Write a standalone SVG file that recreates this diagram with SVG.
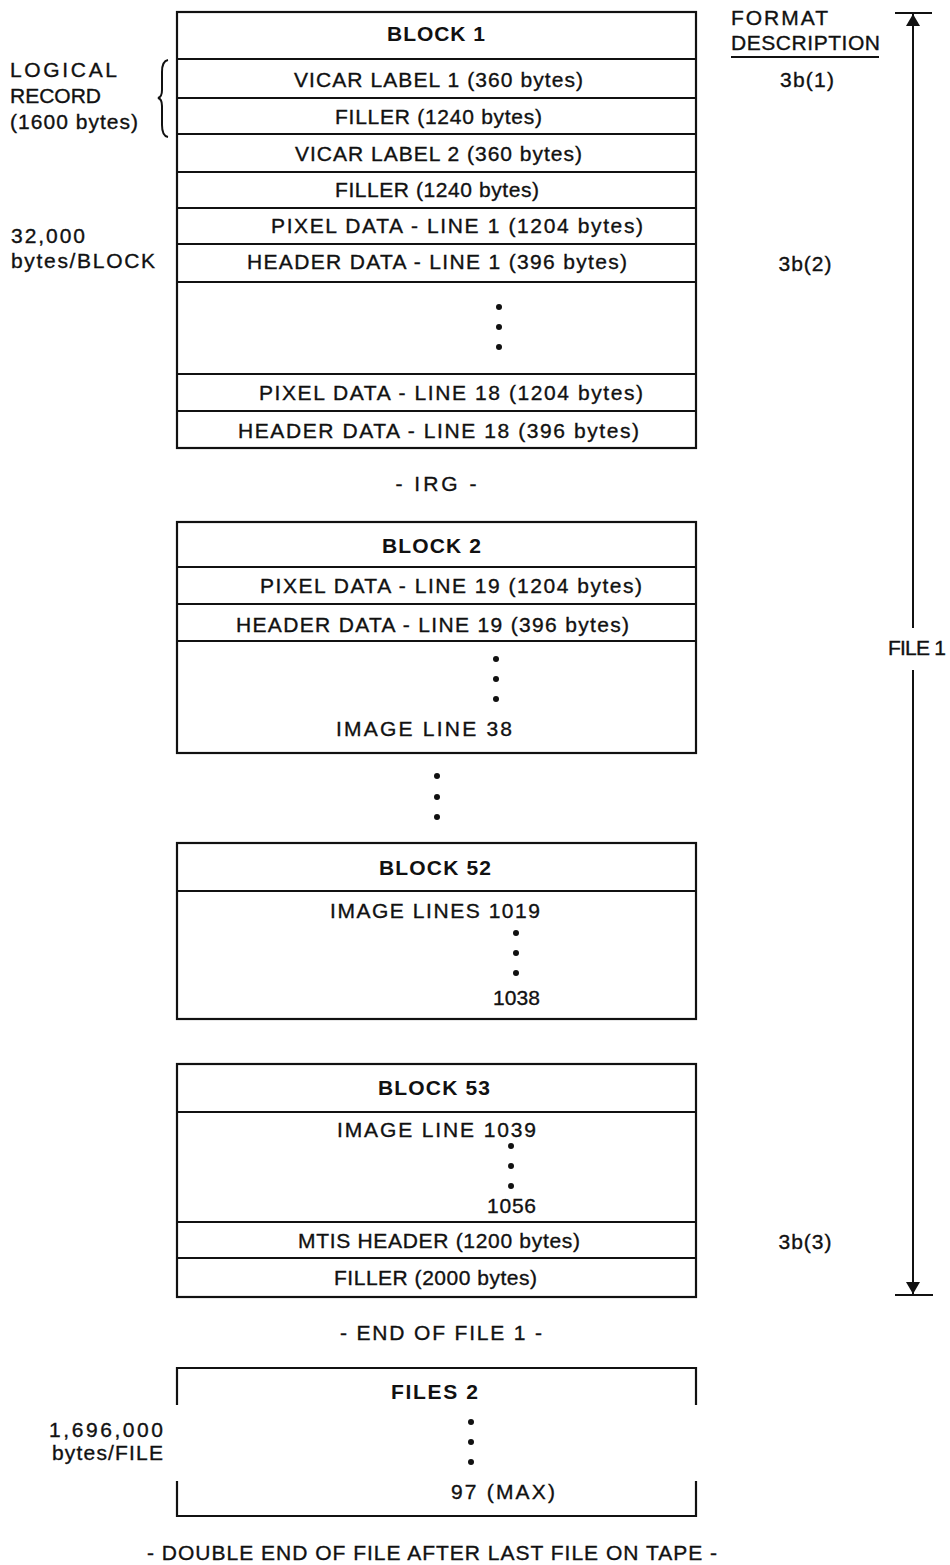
<svg xmlns="http://www.w3.org/2000/svg" width="950" height="1565" viewBox="0 0 950 1565">
<style>
  .t { font-family: "Liberation Sans", Arial, sans-serif; font-size: 21px; fill: #111; stroke: #111; stroke-width: 0.35; }
  .b { font-weight: bold; stroke-width: 0; }
  .c { text-anchor: middle; }
  .e { text-anchor: end; }
  .box { fill: none; stroke: #111; stroke-width: 2.2; }
  .ln { stroke: #111; stroke-width: 2; fill: none; }
  .dot { fill: #111; }
</style>
<defs>
  <marker id="ah" viewBox="0 0 12 24" refX="12" refY="12" markerWidth="12" markerHeight="24" markerUnits="userSpaceOnUse" orient="auto">
    <path d="M0,5 L12,12 L0,19 Z" fill="#111"/>
  </marker>
</defs>
<rect width="950" height="1565" fill="#fff"/>

<g id="side-labels">
  <text class="t" x="10" y="77" textLength="107">LOGICAL</text>
  <text class="t" x="10" y="103" textLength="91">RECORD</text>
  <text class="t" x="10" y="129" textLength="128">(1600 bytes)</text>
  <path class="ln" d="M168,60 Q162,61 162,72 L162,90 Q162,97 158,98 Q162,99 162,106 L162,125 Q162,136 168,137" stroke-width="1.8"/>
  <text class="t" x="11" y="243" textLength="74">32,000</text>
  <text class="t" x="11" y="268" textLength="144">bytes/BLOCK</text>
  <text class="t e" x="163" y="1437" textLength="114">1,696,000</text>
  <text class="t e" x="163" y="1460" textLength="111">bytes/FILE</text>
  <text class="t" x="731" y="25" textLength="97">FORMAT</text>
  <text class="t" x="731" y="50" textLength="149">DESCRIPTION</text>
  <line class="ln" x1="731" y1="57" x2="879" y2="57"/>
  <text class="t c" x="807" y="87" textLength="54">3b(1)</text>
  <text class="t c" x="805" y="271" textLength="53">3b(2)</text>
  <text class="t c" x="805" y="1249" textLength="53">3b(3)</text>
  <text class="t c" x="917" y="655" textLength="58">FILE 1</text>
  <text class="t c" x="436" y="491" textLength="81">- IRG -</text>
  <text class="t c" x="441" y="1340" textLength="202">- END OF FILE 1 -</text>
  <text class="t c" x="432" y="1560" textLength="570">- DOUBLE END OF FILE AFTER LAST FILE ON TAPE -</text>
  <circle class="dot" cx="437" cy="776" r="3"/>
  <circle class="dot" cx="437" cy="797" r="3"/>
  <circle class="dot" cx="437" cy="817" r="3"/>
</g>

<g id="block1">
  <rect class="box" x="177" y="12" width="519" height="436"/>
  <line class="ln" x1="177" y1="59" x2="696" y2="59"/>
  <line class="ln" x1="177" y1="98" x2="696" y2="98"/>
  <line class="ln" x1="177" y1="134" x2="696" y2="134"/>
  <line class="ln" x1="177" y1="172" x2="696" y2="172"/>
  <line class="ln" x1="177" y1="208" x2="696" y2="208"/>
  <line class="ln" x1="177" y1="244" x2="696" y2="244"/>
  <line class="ln" x1="177" y1="282" x2="696" y2="282"/>
  <line class="ln" x1="177" y1="374" x2="696" y2="374"/>
  <line class="ln" x1="177" y1="411" x2="696" y2="411"/>
  <text class="t b c" x="436" y="41" textLength="98">BLOCK 1</text>
  <text class="t c" x="438.5" y="87" textLength="289">VICAR LABEL 1 (360 bytes)</text>
  <text class="t c" x="438.5" y="124" textLength="207">FILLER (1240 bytes)</text>
  <text class="t c" x="438.5" y="161" textLength="287">VICAR LABEL 2 (360 bytes)</text>
  <text class="t c" x="437" y="197" textLength="204">FILLER (1240 bytes)</text>
  <text class="t c" x="457" y="233" textLength="372">PIXEL DATA - LINE 1 (1204 bytes)</text>
  <text class="t c" x="437" y="269" textLength="380">HEADER DATA - LINE 1 (396 bytes)</text>
  <circle class="dot" cx="499" cy="307" r="3"/>
  <circle class="dot" cx="499" cy="327" r="3"/>
  <circle class="dot" cx="499" cy="347" r="3"/>
  <text class="t c" x="451" y="400" textLength="384">PIXEL DATA - LINE 18 (1204 bytes)</text>
  <text class="t c" x="438.5" y="438" textLength="401">HEADER DATA - LINE 18 (396 bytes)</text>
</g>

<g id="block2">
  <rect class="box" x="177" y="522" width="519" height="231"/>
  <line class="ln" x1="177" y1="567" x2="696" y2="567"/>
  <line class="ln" x1="177" y1="604" x2="696" y2="604"/>
  <line class="ln" x1="177" y1="641" x2="696" y2="641"/>
  <text class="t b c" x="431.5" y="553" textLength="99">BLOCK 2</text>
  <text class="t c" x="451" y="593" textLength="382">PIXEL DATA - LINE 19 (1204 bytes)</text>
  <text class="t c" x="432.5" y="632" textLength="393">HEADER DATA - LINE 19 (396 bytes)</text>
  <circle class="dot" cx="496" cy="659" r="3"/>
  <circle class="dot" cx="496" cy="679" r="3"/>
  <circle class="dot" cx="496" cy="699" r="3"/>
  <text class="t c" x="424" y="736" textLength="176">IMAGE LINE 38</text>
</g>

<g id="block52">
  <rect class="box" x="177" y="843" width="519" height="176"/>
  <line class="ln" x1="177" y1="891" x2="696" y2="891"/>
  <text class="t b c" x="435" y="875" textLength="112">BLOCK 52</text>
  <text class="t c" x="435" y="918" textLength="210">IMAGE LINES 1019</text>
  <circle class="dot" cx="516" cy="933" r="3"/>
  <circle class="dot" cx="516" cy="953" r="3"/>
  <circle class="dot" cx="516" cy="973" r="3"/>
  <text class="t c" x="516.5" y="1005" textLength="47">1038</text>
</g>

<g id="block53">
  <rect class="box" x="177" y="1064" width="519" height="233"/>
  <line class="ln" x1="177" y1="1112" x2="696" y2="1112"/>
  <line class="ln" x1="177" y1="1222" x2="696" y2="1222"/>
  <line class="ln" x1="177" y1="1258" x2="696" y2="1258"/>
  <text class="t b c" x="434" y="1095" textLength="112">BLOCK 53</text>
  <text class="t c" x="436.5" y="1137" textLength="199">IMAGE LINE 1039</text>
  <circle class="dot" cx="511" cy="1146" r="3"/>
  <circle class="dot" cx="511" cy="1166" r="3"/>
  <circle class="dot" cx="511" cy="1186" r="3"/>
  <text class="t c" x="511.5" y="1213" textLength="49">1056</text>
  <text class="t c" x="439" y="1248" textLength="282">MTIS HEADER (1200 bytes)</text>
  <text class="t c" x="435.5" y="1285" textLength="203">FILLER (2000 bytes)</text>
</g>

<g id="files2">
  <path class="box" d="M177,1405 L177,1368 L696,1368 L696,1405"/>
  <path class="box" d="M177,1481 L177,1516 L696,1516 L696,1481"/>
  <text class="t b c" x="434.5" y="1399" textLength="87">FILES 2</text>
  <circle class="dot" cx="471" cy="1422" r="3"/>
  <circle class="dot" cx="471" cy="1442" r="3"/>
  <circle class="dot" cx="471" cy="1462" r="3"/>
  <text class="t c" x="503" y="1499" textLength="104">97 (MAX)</text>
</g>

<g id="connectors">
  <line class="ln" x1="895" y1="13" x2="932" y2="13" stroke-width="2.5"/>
  <line class="ln" x1="895" y1="1295" x2="933" y2="1295" stroke-width="2.5"/>
  <line class="ln" x1="913" y1="628" x2="913" y2="14" marker-end="url(#ah)"/>
  <line class="ln" x1="913" y1="670" x2="913" y2="1294" marker-end="url(#ah)"/>
</g>
</svg>
